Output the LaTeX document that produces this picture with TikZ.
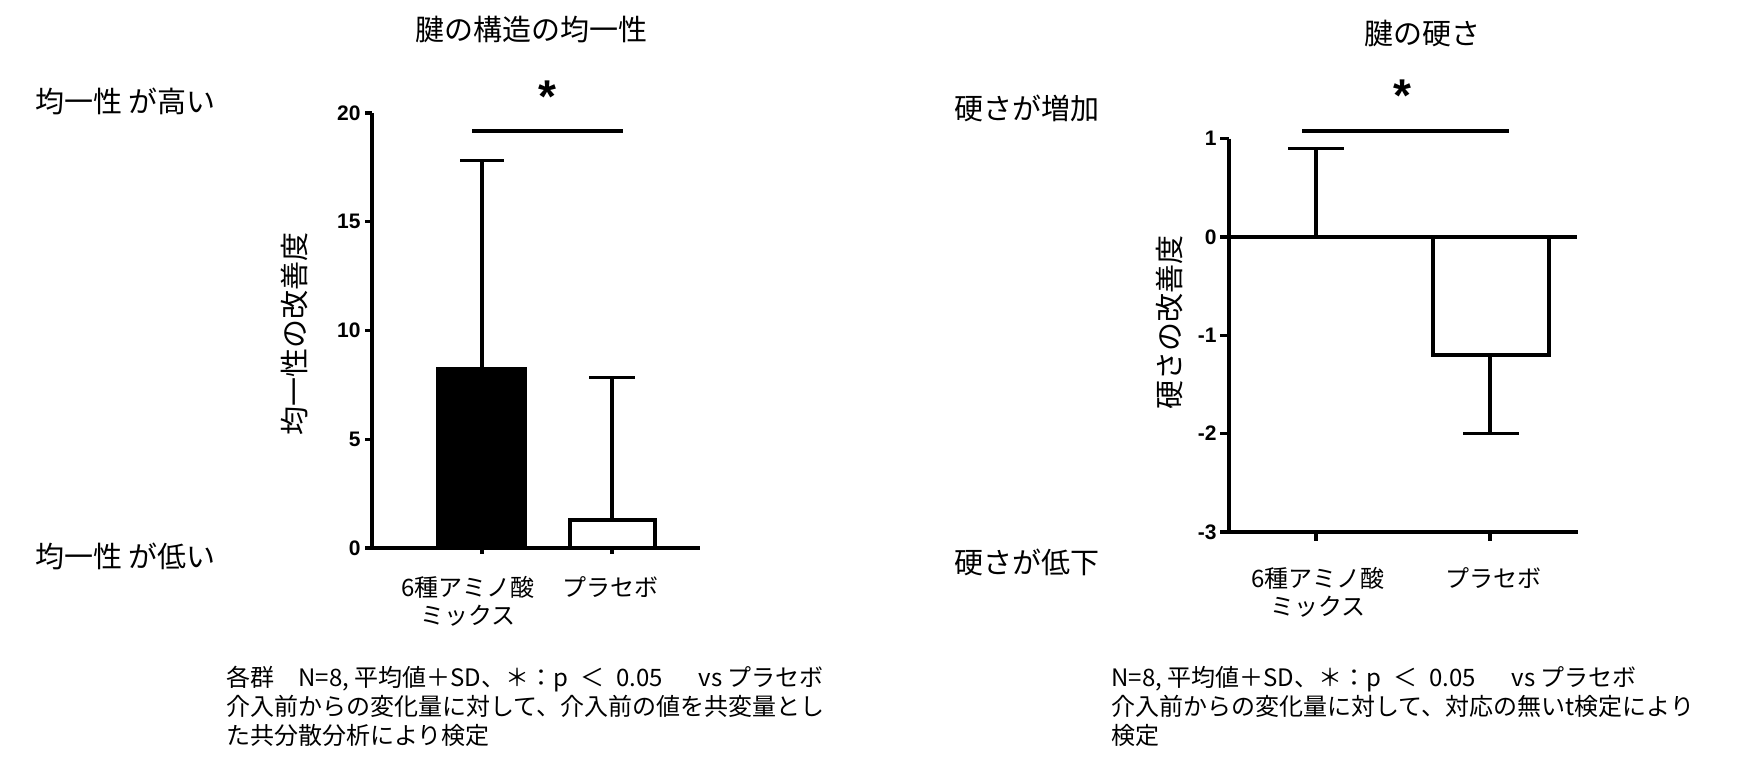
\documentclass[tikz,border=0pt]{standalone}
\usepackage{fontspec}
\setmainfont{Noto Sans CJK JP}
\newfontfamily\tickfont{Liberation Sans}
\usepackage{tikz}
\usetikzlibrary{positioning}

\begin{document}
\begin{tikzpicture}[x=0.5pt,y=-0.5pt,
			axis/.style={line width=1.7pt},
			bar/.style={draw,line width=2.1pt},
			err/.style={line width=1.6pt},
			tick label/.style={anchor=east,inner sep=0pt,
				font=\tickfont\bfseries\fontsize{10.5}{12}\selectfont},
			title node/.style={font=\fontsize{14.5}{16}\selectfont},
			side node/.style={anchor=west,inner sep=0pt,
				font=\fontsize{14.5}{16}\selectfont},
			cat node/.style={align=center,font=\fontsize{12}{14}\selectfont},
			note node/.style={anchor=north west,inner sep=0pt,align=left,
				font=\fontsize{12}{14.5}\selectfont},
			star node/.style={font=\tickfont\bfseries\fontsize{23}{23}\selectfont}]
			\useasboundingbox (0,0) rectangle (1741,772);
			
			% left chart
			\node[title node] (t1) at (531,30) {腱の構造の均一性};
			\node[side node] (hi1) at (35,101) {均一性 が高い};
			\node[side node] (lo1) at (35,556) {均一性 が低い};
			\node[title node,rotate=90] (y1) at (295,334) {均一性の改善度};
			\begin{scope}[shift={(0,548)},yscale=-21.75]
				\foreach \v in {0,5,10,15,20} {
					\draw[axis] (365,\v) -- (372,\v);
					\node[tick label] at (361,\v) {\v};
				}
				\draw[axis] (372,20) -- (372,0) -- (700,0);
				\draw[bar,fill=black] (438,0) rectangle (525,8.23);
				\draw[err] (482,8.23) -- (482,17.8) (460,17.8) -- (504,17.8);
				\draw[bar,fill=white] (570,0) rectangle (655,1.3);
				\draw[err] (612,1.3) -- (612,7.85) (589,7.85) -- (635,7.85);
			\end{scope}
			\draw[axis] (482,548) -- (482,554) (612,548) -- (612,554);
			\draw[err] (472,131) -- (623,131);
			\node[star node] (s1) at (547,97) {*};
			\node[cat node] (c1a) at (468,601) {6種アミノ酸\\ミックス};
			\node[cat node] (c1b) at (610,587) {プラセボ};
			\node[note node] (n1) at (226,666) {各群\quad N=8, 平均値＋SD、＊：p\enspace＜\enspace0.05\quad\enspace vs プラセボ\\
				介入前からの変化量に対して、介入前の値を共変量とし\\
				た共分散分析により検定};
			
			% right chart
			\node[title node] (t2) at (1422,33) {腱の硬さ};
			\node[side node] (hi2) at (954,108) {硬さが増加};
			\node[side node] (lo2) at (954,562) {硬さが低下};
			\node[title node,rotate=90] (y2) at (1169,322) {硬さの改善度};
			\begin{scope}[shift={(0,237)},yscale=-98.3]
				\foreach \v in {1,0,-1,-2,-3} {
					\draw[axis] (1220,\v) -- (1229,\v);
					\node[tick label] at (1217,\v) {\v};
				}
				\draw[axis] (1229,1) -- (1229,-3) -- (1578,-3);
				\draw[bar,fill=white] (1433,0) rectangle (1549,-1.2);
				\draw[axis] (1229,0) -- (1577,0);
				\draw[err] (1316,0) -- (1316,0.9) (1288,0.9) -- (1344,0.9);
				\draw[err] (1490,-1.2) -- (1490,-2) (1463,-2) -- (1519,-2);
			\end{scope}
			\draw[axis] (1316,532) -- (1316,541) (1490,532) -- (1490,541);
			\draw[err] (1302,131) -- (1509,131);
			\node[star node] (s2) at (1402,96) {*};
			\node[cat node] (c2a) at (1318,592) {6種アミノ酸\\ミックス};
			\node[cat node] (c2b) at (1493,578) {プラセボ};
			\node[note node] (n2) at (1111,666) {N=8, 平均値＋SD、＊：p\enspace＜\enspace0.05\quad\enspace vs プラセボ\\
				介入前からの変化量に対して、対応の無いt検定により\\
				検定};
		\end{tikzpicture}
\end{document}
